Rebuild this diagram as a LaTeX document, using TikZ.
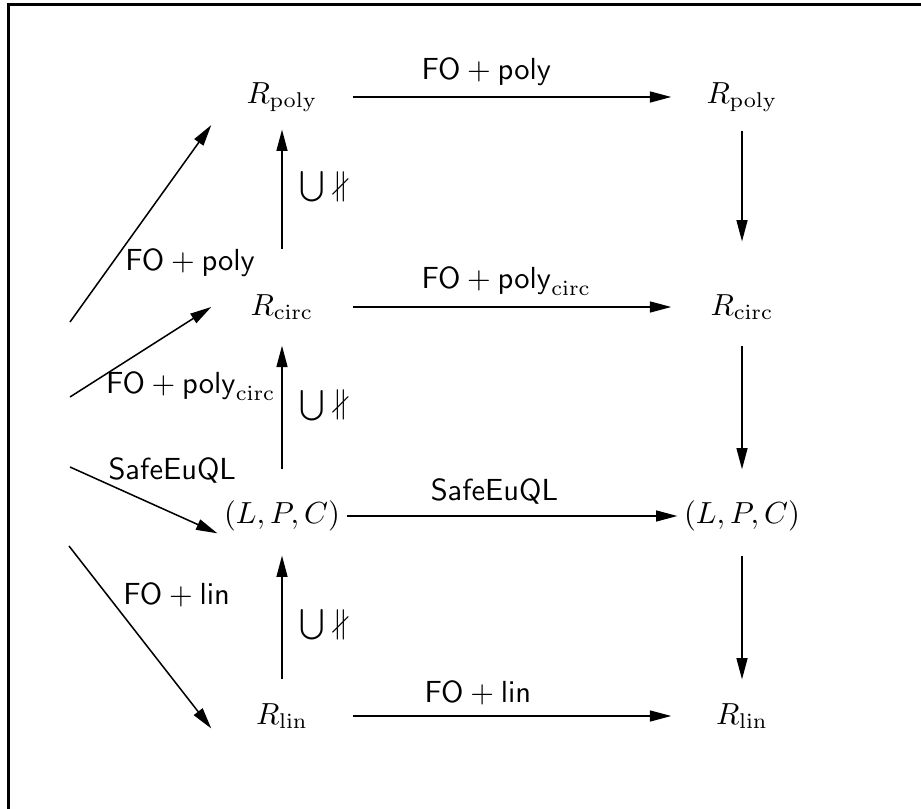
\documentclass[tikz,border=0pt]{standalone}
\usepackage{amsmath,amssymb}
\usetikzlibrary{arrows.meta}

\begin{document}
\begin{tikzpicture}[
    x=0.328pt, y=-0.328pt,
    obj/.style={inner sep=0pt, minimum width=46pt, minimum height=18pt},
    arrow/.style={-{Triangle[length=7pt, width=3.6pt]}, line width=0.5pt},
    lbl/.style={inner sep=2pt},
    hlbl/.style={inner sep=3.5pt, anchor=south west}
]
    \useasboundingbox (0,0) rectangle (921,809);
    \draw[line width=0.7pt] (8.5,809) |- (921,4.5);
    % left column
    \node[obj] (polyL) at (282,97) {$R_{\mathrm{poly}}$};
    \node[obj] (circL) at (282,307) {$R_{\mathrm{circ}}$};
    \node[obj, minimum width=42pt] (lpcL) at (282,516) {$(L,P,C)$};
    \node[obj] (linL) at (282,716) {$R_{\mathrm{lin}}$};
    % right column
    \node[obj] (polyR) at (742,97) {$R_{\mathrm{poly}}$};
    \node[obj] (circR) at (742,307) {$R_{\mathrm{circ}}$};
    \node[obj, minimum width=42pt] (lpcR) at (742,516) {$(L,P,C)$};
    \node[obj] (linR) at (742,716) {$R_{\mathrm{lin}}$};
    % free ends of the fan
    \coordinate (f1) at (70,322);
    \coordinate (f2) at (70,397);
    \coordinate (f3) at (70,467);
    \coordinate (f4) at (69,546);
    % rows
    \draw[arrow] (polyL) -- node[hlbl, pos=0.18] {$\mathsf{FO}+\mathsf{poly}$} (polyR);
    \draw[arrow] (circL) -- node[hlbl, pos=0.18] {$\mathsf{FO}+\mathsf{poly}_{\mathrm{circ}}$} (circR);
    \draw[arrow] (lpcL) -- node[hlbl, pos=0.22] {$\mathsf{SafeEuQL}$} (lpcR);
    \draw[arrow] (linL) -- node[hlbl, pos=0.19] {$\mathsf{FO}+\mathsf{lin}$} (linR);
    % left column, upwards
    \draw[arrow, shorten <=9.7pt, shorten >=1.5pt] (circL) -- node[right, xshift=2pt, pos=0.6] {$\bigcup\nparallel$} (polyL);
    \draw[arrow, shorten <=6.1pt, shorten >=3.5pt] (lpcL) -- node[right, xshift=2pt, pos=0.54] {$\bigcup\nparallel$} (circL);
    \draw[arrow, shorten <=2.8pt, shorten >=3.8pt] (linL) -- node[right, xshift=2pt, pos=0.44] {$\bigcup\nparallel$} (lpcL);
    % right column, downwards
    \draw[arrow, shorten <=1.8pt, shorten >=12.3pt] (polyR) -- (circR);
    \draw[arrow, shorten <=3.5pt, shorten >=6.1pt] (circR) -- (lpcR);
    \draw[arrow, shorten <=3.8pt, shorten >=2.8pt] (lpcR) -- (linR);
    % fan
    \draw[arrow] (f1) -- node[lbl, pos=0.3, anchor=west, xshift=2pt] {$\mathsf{FO}+\mathsf{poly}$} (polyL.south west);
    \draw[arrow] (f2) -- node[lbl, pos=0.12, anchor=west, xshift=4pt] {$\mathsf{FO}+\mathsf{poly}_{\mathrm{circ}}$} (circL.west);
    \draw[arrow] (f3) -- node[lbl, pos=0.216, anchor=south west, yshift=-3pt] {$\mathsf{SafeEuQL}$} (lpcL.-165);
    \draw[arrow] (f4) -- node[lbl, pos=0.27, anchor=west, xshift=3pt] {$\mathsf{FO}+\mathsf{lin}$} (linL.-170);
\end{tikzpicture}
\end{document}
